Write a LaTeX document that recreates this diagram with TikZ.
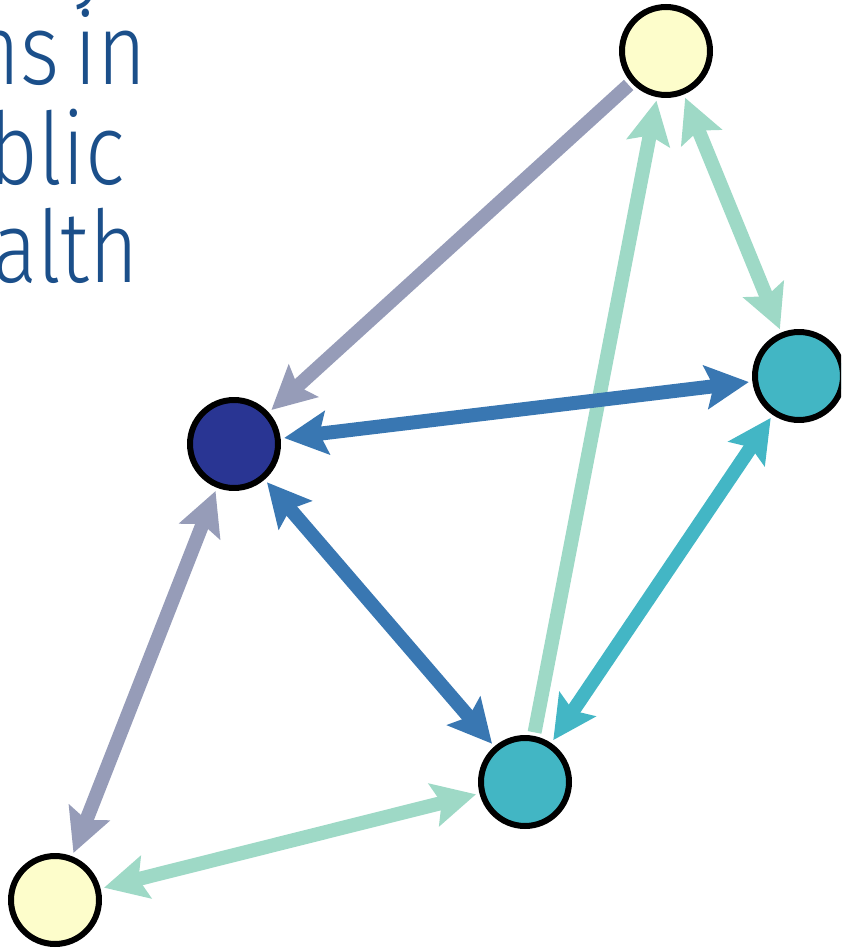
\documentclass[tikz,border=0pt]{standalone}
\usepackage{fontspec}
\newfontfamily\titlefont{Fira Sans Light}[FakeStretch=0.84,WordSpace=0.65]
\usetikzlibrary{arrows.meta}
\definecolor{titleblue}{RGB}{27,79,138}
\definecolor{nodeyellow}{RGB}{253,253,203}
\definecolor{nodeteal}{RGB}{66,182,196}
\definecolor{nodenavy}{RGB}{41,53,147}
\definecolor{edgegrey}{RGB}{150,156,184}
\definecolor{edgeblue}{RGB}{57,119,178}
\definecolor{edgemint}{RGB}{158,217,198}
\definecolor{edgeteal}{RGB}{67,182,197}
\tikzset{
  vertex/.style={circle,draw=black,line width=0.12cm,minimum size=1.76cm,inner sep=0pt},
  link/.style={line width=0.28cm,shorten <=2pt,shorten >=2pt,
    >={Stealth[length=0.86cm,width=0.86cm,inset=0.15cm]}},
  title/.style={anchor=base east,inner sep=0pt,text=titleblue,
    font=\titlefont\fontsize{57}{57}\selectfont},
}
\begin{document}
\begin{tikzpicture}[x=0.02cm,y=-0.02cm]
            \useasboundingbox (0,0) rectangle (841,952);
            \clip (0,0) rectangle (841,952);
            % cut-off title
            \node[title] (lineA) at (112,-10) {y};
            \node[title] (lineB) at (147,85) {ns in};
            \node[title] (lineC) at (125,185) {blic};
            \node[title] (lineD) at (139,283) {ealth};
            % network
            \node[vertex,fill=nodeyellow] (top) at (666,51) {};
            \node[vertex,fill=nodeteal] (right) at (799,376) {};
            \node[vertex,fill=nodenavy] (hub) at (234,444) {};
            \node[vertex,fill=nodeteal] (low) at (525,782) {};
            \node[vertex,fill=nodeyellow] (corner) at (55,900) {};
            \draw[link,edgemint,<->] (corner) -- (low);
            \draw[link,edgemint,->] (low) -- (top);
            \draw[link,edgemint,<->] (top) -- (right);
            \draw[link,edgegrey,->] (top) -- (hub);
            \draw[link,edgegrey,<->] (hub) -- (corner);
            \draw[link,edgeteal,<->] (right) -- (low);
            \draw[link,edgeblue,<->] (hub) -- (right);
            \draw[link,edgeblue,<->] (hub) -- (low);
        \end{tikzpicture}
\end{document}
